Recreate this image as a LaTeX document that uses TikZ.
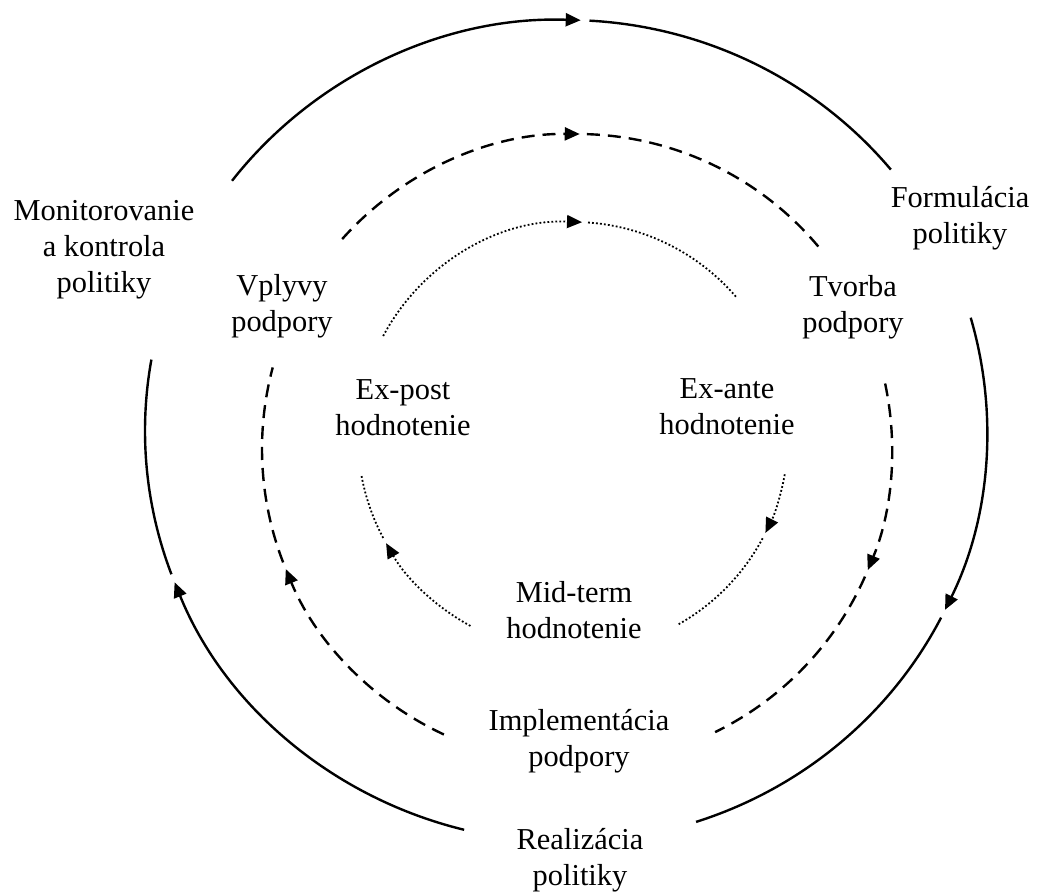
\documentclass[tikz,border=0pt]{standalone}
\usepackage{fontspec}
\setmainfont{Liberation Serif}
\usetikzlibrary{arrows.meta}

\begin{document}
\begin{tikzpicture}[x=0.5pt,y=0.5pt,
  txt/.style={align=center,font=\fontsize{15.2}{18}\selectfont,inner sep=0pt},
  tip/.style={-{Triangle[length=7.5pt,width=6.5pt]}},
  ringo/.style={line width=1.2pt,x radius=421,y radius=411},
  ringd/.style={line width=1.2pt,dash pattern=on 6.5pt off 4pt,radius=315},
  ringi/.style={line width=0.9pt,dash pattern=on 0.9pt off 1.1pt,radius=215}]
\useasboundingbox (0,0) rectangle (1039,894);
\coordinate (oc) at (566,463);
\coordinate (dc) at (577,445);
\coordinate (ic) at (573,457);
\node[txt] (mon) at (104,644) {Monitorovanie\\a kontrola\\politiky};
\node[txt] (form) at (960,676) {Formulácia\\politiky};
\node[txt] (real) at (580,34) {Realizácia\\politiky};
\node[txt] (vpl) at (282,588) {Vplyvy\\podpory};
\node[txt] (tvo) at (853,587) {Tvorba\\podpory};
\node[txt] (impl) at (579,153) {Implementácia\\podpory};
\node[txt] (expost) at (403,486) {Ex-post\\hodnotenie};
\node[txt] (exante) at (727,487) {Ex-ante\\hodnotenie};
\node[txt] (midterm) at (574,284) {Mid-term\\hodnotenie};
% outer ring
\draw[ringo,tip] (oc) ++(142.5:421 and 411) arc[start angle=142.5,end angle=88];
\draw[ringo] (oc) ++(86.8:421 and 411) arc[start angle=86.8,end angle=39.5];
\draw[ringo,tip] (oc) ++(16:421 and 411) arc[start angle=16,end angle=-25.8];
\draw[ringo] (oc) ++(-27:421 and 411) arc[start angle=-27,end angle=-72];
\draw[ringo,tip] (oc) ++(256:421 and 411) arc[start angle=256,end angle=201.6];
\draw[ringo] (oc) ++(200.4:421 and 411) arc[start angle=200.4,end angle=170];
% dashed ring
\draw[ringd,tip] (dc) ++(138.2:315) arc[start angle=138.2,end angle=89.5];
\draw[ringd] (dc) ++(88.2:315) arc[start angle=88.2,end angle=39];
\draw[ringd,tip] (dc) ++(12:315) arc[start angle=12,end angle=-22.6];
\draw[ringd] (dc) ++(-23.9:315) arc[start angle=-23.9,end angle=-64];
\draw[ringd,tip] (dc) ++(245:315) arc[start angle=245,end angle=202.4];
\draw[ringd] (dc) ++(201.1:315) arc[start angle=201.1,end angle=165];
% dotted ring
\draw[ringi,tip] (ic) ++(152:215) arc[start angle=152,end angle=87.6];
\draw[ringi] (ic) ++(86:215) arc[start angle=86,end angle=40.5];
\draw[ringi,tip] (ic) ++(-10:215) arc[start angle=-10,end angle=-26.5];
\draw[ringi] (ic) ++(-28.1:215) arc[start angle=-28.1,end angle=-60.6];
\draw[ringi,tip] (ic) ++(241.5:215) arc[start angle=241.5,end angle=209.6];
\draw[ringi] (ic) ++(208:215) arc[start angle=208,end angle=190];
\end{tikzpicture}
\end{document}
